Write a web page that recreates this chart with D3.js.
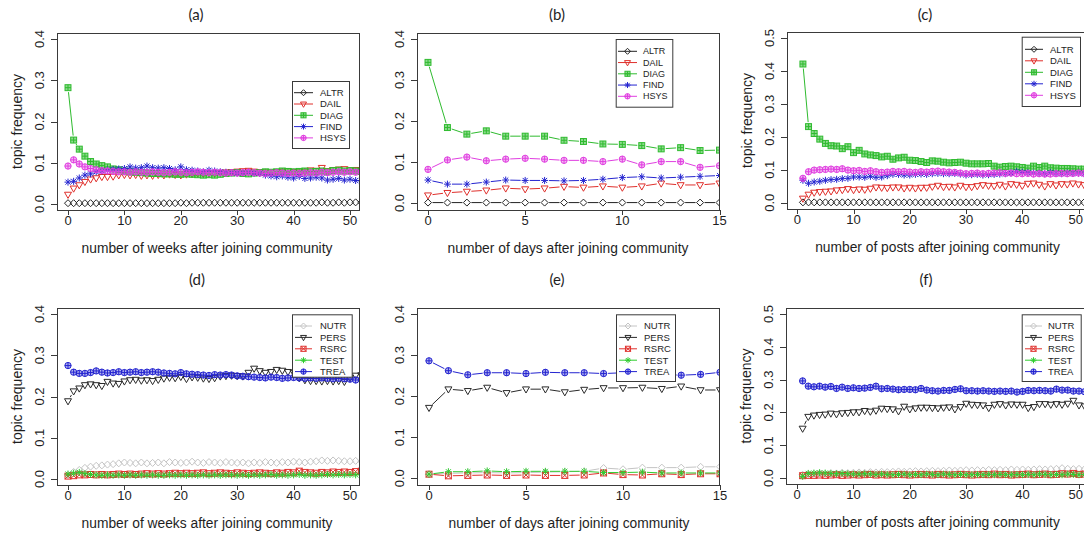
<!DOCTYPE html>
<html>
<head>
<meta charset="utf-8">
<script src="https://cdn.jsdelivr.net/npm/d3@7"></script>
<style>
  html, body { margin: 0; padding: 0; background: #fff; }
  svg { display: block; }
</style>
</head>
<body>
<svg id="chart" width="1084" height="535"></svg>
<script>
// ---------------------------------------------------------------
// Topic frequency over time after joining the community
// ---------------------------------------------------------------

// x positions (time indices)
const weeks = d3.range(0, 53);      // weeks 0..52
const days  = d3.range(0, 17);      // days 0..16
const posts = d3.range(1, 53);      // posts 1..52

const topicsTop    = ["ALTR", "DAIL", "DIAG", "FIND", "HSYS"];
const topicsBottom = ["NUTR", "PERS", "RSRC", "TEST", "TREA"];

// ---- (a) by week ----
const altrWeek = [0.002,0.002,0.002,0.002,0.002,0.002,0.002,0.002,0.002,0.002,
  0.002,0.002,0.002,0.002,0.002,0.002,0.002,0.002,0.002,0.002,
  0.003,0.002,0.003,0.003,0.003,0.003,0.003,0.003,0.003,0.003,
  0.003,0.003,0.003,0.003,0.003,0.003,0.003,0.003,0.003,0.003,
  0.003,0.003,0.003,0.003,0.003,0.004,0.003,0.003,0.004,0.003,
  0.004,0.004,0.004];
const dailWeek = [0.023,0.038,0.046,0.054,0.060,0.063,0.066,0.066,0.067,0.070,
  0.071,0.070,0.071,0.069,0.070,0.069,0.071,0.070,0.072,0.071,
  0.070,0.072,0.073,0.074,0.073,0.075,0.074,0.076,0.077,0.078,
  0.079,0.080,0.081,0.079,0.078,0.077,0.076,0.078,0.079,0.080,
  0.078,0.077,0.079,0.082,0.081,0.088,0.080,0.083,0.084,0.085,
  0.082,0.083,0.082];
const diagWeek = [0.282,0.155,0.133,0.116,0.103,0.097,0.093,0.090,0.085,0.083,
  0.080,0.078,0.077,0.076,0.075,0.074,0.074,0.073,0.073,0.072,
  0.072,0.073,0.072,0.071,0.070,0.071,0.070,0.072,0.074,0.075,
  0.076,0.074,0.073,0.075,0.076,0.078,0.077,0.078,0.080,0.079,
  0.078,0.079,0.080,0.078,0.079,0.080,0.078,0.081,0.082,0.080,
  0.081,0.080,0.079];
const findWeek = [0.053,0.055,0.063,0.070,0.073,0.078,0.080,0.082,0.084,0.085,
  0.086,0.090,0.087,0.088,0.092,0.088,0.087,0.088,0.086,0.083,
  0.090,0.083,0.082,0.080,0.078,0.082,0.080,0.078,0.077,0.076,
  0.075,0.076,0.077,0.075,0.074,0.070,0.068,0.066,0.068,0.065,
  0.063,0.067,0.062,0.063,0.065,0.063,0.058,0.060,0.062,0.058,
  0.060,0.057,0.056];
const hsysWeek = [0.092,0.107,0.097,0.090,0.086,0.083,0.081,0.080,0.079,0.078,
  0.078,0.077,0.078,0.077,0.077,0.078,0.077,0.076,0.077,0.078,
  0.077,0.076,0.077,0.078,0.077,0.076,0.077,0.076,0.075,0.076,
  0.075,0.076,0.077,0.076,0.075,0.074,0.075,0.076,0.075,0.074,
  0.075,0.074,0.075,0.076,0.075,0.077,0.076,0.077,0.078,0.077,
  0.078,0.077,0.078];

// ---- (b) by day ----
const altrDay = [0.001,0.001,0.001,0.001,0.001,0.001,0.001,0.001,0.001,0.001,0.001,0.001,0.001,0.001,0.001,0.001,0.001];
const dailDay = [0.019,0.025,0.028,0.031,0.036,0.034,0.036,0.040,0.038,0.041,0.038,0.041,0.048,0.044,0.044,0.048,0.049];
const diagDay = [0.343,0.184,0.168,0.176,0.163,0.163,0.163,0.153,0.150,0.144,0.143,0.140,0.132,0.135,0.128,0.129,0.131];
const findDay = [0.056,0.046,0.046,0.051,0.056,0.055,0.055,0.054,0.055,0.058,0.062,0.064,0.061,0.063,0.065,0.067,0.069];
const hsysDay = [0.082,0.105,0.112,0.103,0.107,0.109,0.107,0.104,0.104,0.101,0.107,0.093,0.101,0.101,0.087,0.091,0.095];

// ---- (c) by post ----
const altrPost = [0.001,0.001,0.001,0.001,0.001,0.001,0.001,0.001,0.001,0.001,
  0.001,0.001,0.001,0.001,0.001,0.001,0.001,0.001,0.001,0.001,
  0.001,0.001,0.001,0.001,0.001,0.001,0.001,0.001,0.001,0.001,
  0.001,0.001,0.001,0.001,0.001,0.001,0.001,0.001,0.001,0.001,
  0.001,0.001,0.001,0.001,0.001,0.001,0.001,0.001,0.001,0.001,
  0.001,0.001];
const dailPost = [0.013,0.025,0.031,0.033,0.034,0.035,0.038,0.039,0.042,0.039,
  0.041,0.040,0.043,0.047,0.046,0.045,0.047,0.047,0.044,0.046,
  0.044,0.046,0.046,0.049,0.052,0.048,0.049,0.047,0.052,0.048,
  0.048,0.051,0.054,0.052,0.051,0.055,0.050,0.057,0.055,0.052,
  0.058,0.059,0.055,0.050,0.057,0.053,0.057,0.056,0.059,0.056,
  0.054,0.055];
const diagPost = [0.421,0.231,0.210,0.193,0.180,0.173,0.172,0.164,0.170,0.152,
  0.159,0.148,0.145,0.143,0.139,0.141,0.132,0.136,0.138,0.129,
  0.128,0.125,0.122,0.127,0.126,0.123,0.121,0.122,0.123,0.120,
  0.118,0.118,0.118,0.119,0.111,0.108,0.110,0.111,0.109,0.107,
  0.105,0.111,0.107,0.111,0.106,0.105,0.104,0.104,0.103,0.102,
  0.102,0.100];
const findPost = [0.068,0.059,0.063,0.065,0.068,0.070,0.071,0.073,0.074,0.078,
  0.078,0.077,0.080,0.077,0.078,0.082,0.086,0.086,0.084,0.084,
  0.086,0.087,0.086,0.088,0.089,0.088,0.088,0.089,0.087,0.084,
  0.085,0.086,0.084,0.085,0.086,0.087,0.088,0.090,0.094,0.092,
  0.091,0.090,0.089,0.088,0.091,0.089,0.088,0.090,0.089,0.090,
  0.088,0.089];
const hsysPost = [0.074,0.094,0.099,0.100,0.101,0.102,0.101,0.103,0.099,0.097,
  0.098,0.095,0.097,0.094,0.092,0.093,0.095,0.094,0.095,0.093,
  0.092,0.094,0.093,0.095,0.096,0.094,0.093,0.092,0.090,0.088,
  0.089,0.090,0.088,0.089,0.090,0.091,0.089,0.090,0.088,0.088,
  0.089,0.087,0.088,0.087,0.087,0.088,0.089,0.088,0.089,0.090,
  0.089,0.090];

// ---- (d) by week ----
const nutrWeek = [0.010,0.017,0.022,0.027,0.030,0.032,0.033,0.035,0.036,0.038,
  0.040,0.039,0.038,0.040,0.038,0.039,0.040,0.038,0.041,0.040,
  0.039,0.040,0.042,0.040,0.039,0.041,0.040,0.039,0.041,0.040,
  0.039,0.040,0.038,0.040,0.039,0.041,0.040,0.039,0.041,0.040,
  0.042,0.041,0.040,0.042,0.043,0.045,0.044,0.045,0.044,0.043,
  0.043,0.044,0.043];
const persWeek = [0.189,0.213,0.220,0.228,0.230,0.228,0.226,0.236,0.232,0.231,
  0.237,0.240,0.241,0.239,0.240,0.238,0.241,0.244,0.246,0.245,
  0.248,0.243,0.247,0.246,0.244,0.243,0.245,0.249,0.250,0.251,
  0.250,0.249,0.258,0.268,0.262,0.258,0.260,0.265,0.263,0.260,
  0.258,0.245,0.240,0.238,0.238,0.237,0.238,0.237,0.238,0.236,
  0.245,0.251,0.252];
const rsrcWeek = [0.007,0.008,0.010,0.010,0.011,0.010,0.011,0.010,0.011,0.012,
  0.011,0.012,0.011,0.012,0.013,0.012,0.013,0.012,0.013,0.014,
  0.013,0.014,0.013,0.014,0.015,0.013,0.014,0.015,0.014,0.013,
  0.015,0.014,0.013,0.014,0.015,0.014,0.013,0.015,0.014,0.016,
  0.015,0.019,0.016,0.015,0.014,0.016,0.015,0.017,0.016,0.017,
  0.016,0.018,0.019];
const testWeek = [0.012,0.014,0.016,0.013,0.011,0.010,0.009,0.010,0.009,0.010,
  0.009,0.010,0.009,0.010,0.009,0.010,0.009,0.009,0.010,0.009,
  0.010,0.009,0.010,0.009,0.010,0.009,0.010,0.009,0.010,0.010,
  0.009,0.010,0.009,0.010,0.009,0.010,0.011,0.009,0.010,0.009,
  0.010,0.011,0.009,0.010,0.009,0.010,0.011,0.010,0.011,0.010,
  0.011,0.010,0.011];
const treaWeek = [0.275,0.259,0.256,0.256,0.258,0.262,0.259,0.257,0.258,0.260,
  0.258,0.259,0.260,0.258,0.259,0.260,0.259,0.257,0.256,0.255,
  0.258,0.255,0.254,0.253,0.252,0.251,0.253,0.252,0.253,0.252,
  0.250,0.249,0.248,0.247,0.246,0.245,0.247,0.246,0.244,0.245,
  0.246,0.245,0.244,0.245,0.244,0.245,0.244,0.243,0.244,0.243,
  0.242,0.240,0.241];

// ---- (e) by day ----
const nutrDay = [0.010,0.012,0.013,0.014,0.013,0.014,0.015,0.016,0.017,0.025,0.022,0.026,0.026,0.026,0.028,0.028,0.027];
const persDay = [0.172,0.217,0.213,0.221,0.208,0.217,0.217,0.210,0.216,0.220,0.220,0.221,0.218,0.224,0.215,0.215,0.215];
const rsrcDay = [0.010,0.006,0.007,0.008,0.007,0.008,0.007,0.007,0.008,0.013,0.009,0.008,0.011,0.009,0.011,0.011,0.011];
const testDay = [0.010,0.016,0.016,0.018,0.016,0.017,0.017,0.017,0.017,0.014,0.014,0.015,0.013,0.013,0.013,0.013,0.013];
const treaDay = [0.286,0.262,0.252,0.257,0.257,0.255,0.258,0.257,0.257,0.255,0.257,0.255,0.253,0.251,0.253,0.258,0.260];

// ---- (f) by post ----
const nutrPost = [0.010,0.012,0.013,0.014,0.013,0.015,0.014,0.016,0.015,0.016,
  0.017,0.016,0.018,0.017,0.019,0.018,0.019,0.020,0.019,0.020,
  0.021,0.020,0.021,0.022,0.021,0.022,0.023,0.022,0.023,0.024,
  0.023,0.024,0.023,0.025,0.024,0.025,0.024,0.026,0.025,0.026,
  0.025,0.026,0.027,0.026,0.027,0.028,0.030,0.028,0.027,0.028,
  0.027,0.028];
const persPost = [0.151,0.187,0.191,0.193,0.194,0.197,0.195,0.198,0.199,0.201,
  0.201,0.205,0.203,0.206,0.212,0.211,0.210,0.204,0.218,0.210,
  0.213,0.215,0.215,0.214,0.213,0.215,0.216,0.210,0.217,0.227,
  0.224,0.223,0.222,0.214,0.224,0.226,0.222,0.225,0.224,0.224,
  0.214,0.217,0.226,0.226,0.224,0.226,0.224,0.227,0.236,0.222,
  0.219,0.220];
const rsrcPost = [0.007,0.008,0.008,0.009,0.008,0.009,0.010,0.008,0.009,0.010,
  0.009,0.010,0.011,0.009,0.010,0.009,0.010,0.011,0.010,0.009,
  0.010,0.011,0.010,0.009,0.011,0.010,0.009,0.010,0.011,0.010,
  0.009,0.010,0.011,0.010,0.012,0.010,0.011,0.009,0.010,0.011,
  0.012,0.010,0.011,0.012,0.010,0.011,0.013,0.012,0.014,0.011,
  0.012,0.011];
const testPost = [0.005,0.014,0.015,0.016,0.015,0.014,0.013,0.014,0.013,0.012,
  0.012,0.013,0.012,0.011,0.012,0.011,0.010,0.011,0.012,0.010,
  0.011,0.010,0.012,0.011,0.010,0.012,0.011,0.010,0.011,0.010,
  0.010,0.011,0.010,0.011,0.010,0.011,0.010,0.010,0.011,0.010,
  0.011,0.010,0.012,0.011,0.010,0.011,0.010,0.012,0.011,0.010,
  0.011,0.010];
const treaPost = [0.296,0.280,0.278,0.280,0.277,0.279,0.273,0.277,0.273,0.275,
  0.273,0.274,0.276,0.280,0.272,0.273,0.271,0.269,0.270,0.270,
  0.269,0.273,0.268,0.266,0.265,0.267,0.267,0.270,0.272,0.266,
  0.266,0.265,0.266,0.265,0.264,0.265,0.264,0.265,0.262,0.264,
  0.267,0.266,0.267,0.266,0.265,0.271,0.268,0.268,0.265,0.265,
  0.263,0.264];

const yTicks4 = [0, 0.1, 0.2, 0.3, 0.4];
const yTicks5 = [0, 0.1, 0.2, 0.3, 0.4, 0.5];
const xTicks50 = [0, 10, 20, 30, 40, 50];
const xTicks15 = [0, 5, 10, 15];

// ---------------------------------------------------------------
// Styling
// ---------------------------------------------------------------
const topicStyle = {
  ALTR: { color: "#222222", shape: "diamond" },
  DAIL: { color: "#e0302c", shape: "triDown" },
  DIAG: { color: "#2fbb2f", shape: "squarePlus" },
  FIND: { color: "#2424d0", shape: "asterisk" },
  HSYS: { color: "#e03ee0", shape: "circlePlus" },
  NUTR: { color: "#c4c4c4", shape: "diamond" },
  PERS: { color: "#2a2a2a", shape: "triDown" },
  RSRC: { color: "#e0302c", shape: "squareX" },
  TEST: { color: "#2fcc2f", shape: "asterisk" },
  TREA: { color: "#2424d0", shape: "circlePlus" }
};

const FONT = "'Liberation Sans', Arial, Helvetica, sans-serif";
const TITLE_FONT = "Lato, 'Open Sans', sans-serif";
const INK = "#1e1e1e";
const FRAME = "#3a3a3a";
const CANVAS_W = 1084;

const panels = [
  { title: "(a)", titleX: 196, titleY: 20,
    box: { l: 57, t: 33, r: 360, b: 210 },
    xDom: [0, 50], xRng: [68, 350], yDom: [0, 0.4], yRng: [204, 39],
    xTicks: xTicks50, yTicks: yTicks4,
    xLabel: "number of weeks after joining community", xLabelX: 207, yLabel: true,
    x: weeks, names: topicsTop,
    values: [altrWeek, dailWeek, diagWeek, findWeek, hsysWeek],
    legend: { x: 292, y: 81, w: 57, h: 67, row0: 92.7, step: 11.3, l0: 294, l1: 313, tx: 320, fs: 9.5 } },
  { title: "(b)", titleX: 557, titleY: 20,
    box: { l: 417, t: 33, r: 720, b: 210 },
    xDom: [0, 15], xRng: [428, 719.5], yDom: [0, 0.4], yRng: [203, 39],
    xTicks: xTicks15, yTicks: yTicks4,
    xLabel: "number of days after joining community", xLabelX: 568, yLabel: false,
    x: days, names: topicsTop,
    values: [altrDay, dailDay, diagDay, findDay, hsysDay],
    legend: { x: 615.7, y: 39, w: 56.6, h: 67.7, row0: 51.3, step: 11.25, l0: 618, l1: 637, tx: 643, fs: 9 } },
  { title: "(c)", titleX: 925, titleY: 20,
    box: { l: 787, t: 32, r: 1100, b: 209 },
    xDom: [0, 50], xRng: [797.3, 1078.5], yDom: [0, 0.5], yRng: [202.7, 38],
    xTicks: xTicks50, yTicks: yTicks5,
    xLabel: "number of posts after joining community", xLabelX: 937.5, yLabel: true,
    x: posts, names: topicsTop,
    values: [altrPost, dailPost, diagPost, findPost, hsysPost],
    legend: { x: 1021.7, y: 36.7, w: 58.3, h: 69.3, row0: 49.3, step: 11.5, l0: 1025, l1: 1043, tx: 1050, fs: 9.5 } },
  { title: "(d)", titleX: 197, titleY: 285,
    box: { l: 57, t: 308, r: 360, b: 485 },
    xDom: [0, 50], xRng: [68, 350], yDom: [0, 0.4], yRng: [479, 314],
    xTicks: xTicks50, yTicks: yTicks4,
    xLabel: "number of weeks after joining community", xLabelX: 207, yLabel: true,
    x: weeks, names: topicsBottom,
    values: [nutrWeek, persWeek, rsrcWeek, testWeek, treaWeek],
    legend: { x: 292, y: 314.3, w: 59.7, h: 62.4, row0: 326, step: 11.4, l0: 295, l1: 312, tx: 320, fs: 9.5 } },
  { title: "(e)", titleX: 557, titleY: 285,
    box: { l: 417, t: 308, r: 720, b: 485 },
    xDom: [0, 15], xRng: [429, 720], yDom: [0, 0.4], yRng: [478.3, 314],
    xTicks: xTicks15, yTicks: yTicks4,
    xLabel: "number of days after joining community", xLabelX: 569, yLabel: false,
    x: days, names: topicsBottom,
    values: [nutrDay, persDay, rsrcDay, testDay, treaDay],
    legend: { x: 616, y: 314.3, w: 59, h: 66.7, row0: 326, step: 11.4, l0: 619, l1: 637, tx: 644, fs: 9.5 } },
  { title: "(f)", titleX: 926, titleY: 285,
    box: { l: 786, t: 308, r: 1100, b: 484 },
    xDom: [0, 50], xRng: [797, 1079], yDom: [0, 0.5], yRng: [478, 314],
    xTicks: xTicks50, yTicks: yTicks5,
    xLabel: "number of posts after joining community", xLabelX: 937.5, yLabel: true,
    x: posts, names: topicsBottom,
    values: [nutrPost, persPost, rsrcPost, testPost, treaPost],
    legend: { x: 1021.7, y: 314.3, w: 59, h: 66.7, row0: 326, step: 11.4, l0: 1025, l1: 1042, tx: 1048, fs: 9.5 } }
];

// ---------------------------------------------------------------
// Plot symbols (R-style pch shapes)
// ---------------------------------------------------------------
function drawSymbol(g, shape, color, r) {
  const s = { stroke: color, "stroke-width": 1, fill: "none" };
  const apply = (el) => { Object.entries(s).forEach(([k, v]) => el.attr(k, v)); return el; };
  switch (shape) {
    case "diamond":
      apply(g.append("path").attr("d", `M0,${-r}L${r},0L0,${r}L${-r},0Z`));
      break;
    case "triDown":
      apply(g.append("path").attr("d", `M${-r},${-r * 0.65}L${r},${-r * 0.65}L0,${r * 1.1}Z`));
      break;
    case "squarePlus": {
      const h = r * 0.85;
      apply(g.append("rect").attr("x", -h).attr("y", -h).attr("width", 2 * h).attr("height", 2 * h))
        .attr("fill", color).attr("fill-opacity", 0.55);
      apply(g.append("path").attr("d", `M${-h},0H${h}M0,${-h}V${h}`));
      break;
    }
    case "squareX": {
      const h = r * 0.85;
      apply(g.append("rect").attr("x", -h).attr("y", -h).attr("width", 2 * h).attr("height", 2 * h));
      apply(g.append("path").attr("d", `M${-h},${-h}L${h},${h}M${-h},${h}L${h},${-h}`));
      break;
    }
    case "asterisk": {
      const d = r * 0.72;
      apply(g.append("path").attr("d", `M${-r},0H${r}M0,${-r}V${r}M${-d},${-d}L${d},${d}M${-d},${d}L${d},${-d}`));
      break;
    }
    case "circlePlus": {
      const c = r * 0.9;
      apply(g.append("circle").attr("r", c)).attr("fill", color).attr("fill-opacity", 0.35);
      apply(g.append("path").attr("d", `M${-c},0H${c}M0,${-c}V${c}`));
      break;
    }
  }
}

// ---------------------------------------------------------------
// Drawing
// ---------------------------------------------------------------
const svg = d3.select("#chart");
svg.append("rect").attr("width", CANVAS_W).attr("height", 535).attr("fill", "#fff");

const R = 3.5;      // symbol radius
const GAP = 4.5;    // line gap around each symbol (type = "b")

panels.forEach((p, pi) => {
  const g = svg.append("g");
  const x = d3.scaleLinear().domain(p.xDom).range(p.xRng);
  const y = d3.scaleLinear().domain(p.yDom).range(p.yRng);
  const { l, t, r, b } = p.box;

  const clipId = "plotclip" + pi;
  svg.append("defs").append("clipPath").attr("id", clipId)
    .append("rect").attr("x", l).attr("y", t).attr("width", r - l).attr("height", b - t);

  // series
  const plot = g.append("g").attr("clip-path", `url(#${clipId})`);
  p.names.forEach((name, si) => {
    const st = topicStyle[name];
    const pts = p.x.map((xv, i) => [x(xv), y(p.values[si][i])]);
    let d = "";
    for (let i = 0; i < pts.length - 1; i++) {
      const [x1, y1] = pts[i], [x2, y2] = pts[i + 1];
      const len = Math.hypot(x2 - x1, y2 - y1);
      if (len <= 2 * GAP) continue;
      const ux = (x2 - x1) / len, uy = (y2 - y1) / len;
      d += `M${x1 + ux * GAP},${y1 + uy * GAP}L${x2 - ux * GAP},${y2 - uy * GAP}`;
    }
    plot.append("path").attr("d", d).attr("fill", "none")
      .attr("stroke", st.color).attr("stroke-width", 1);
    pts.forEach(([px, py]) => {
      drawSymbol(plot.append("g").attr("transform", `translate(${px},${py})`), st.shape, st.color, R);
    });
  });

  // frame
  g.append("rect").attr("x", l + 0.5).attr("y", t + 0.5)
    .attr("width", r - l - 1).attr("height", b - t)
    .attr("fill", "none").attr("stroke", FRAME).attr("stroke-width", 1);

  // x axis
  const xa = g.append("g");
  p.xTicks.forEach(v => {
    const px = Math.round(x(v)) + 0.5;
    xa.append("line").attr("x1", px).attr("x2", px).attr("y1", b).attr("y2", b + 5)
      .attr("stroke", FRAME);
    // keep the last label inside the canvas
    const nearEdge = x(v) + 9 > CANVAS_W;
    xa.append("text").attr("x", nearEdge ? CANVAS_W - 1 : x(v)).attr("y", b + 15)
      .attr("text-anchor", nearEdge ? "end" : "middle")
      .attr("font-family", FONT).attr("font-size", 13)
      .attr("fill", INK).text(d3.format("d")(v));
  });

  // y axis
  const ya = g.append("g");
  p.yTicks.forEach(v => {
    const py = Math.round(y(v)) + 0.5;
    ya.append("line").attr("x1", l - 6).attr("x2", l).attr("y1", py).attr("y2", py)
      .attr("stroke", FRAME);
    ya.append("text")
      .attr("transform", `translate(${l - 18},${y(v)}) rotate(-90)`)
      .attr("dy", "0.35em")
      .attr("text-anchor", "middle").attr("font-family", FONT).attr("font-size", 13)
      .attr("fill", INK).text(d3.format(".1f")(v));
  });

  // axis titles
  g.append("text").attr("x", p.xLabelX).attr("y", b + 43)
    .attr("text-anchor", "middle").attr("font-family", FONT).attr("font-size", 13.8)
    .attr("fill", INK).text(p.xLabel);
  if (p.yLabel) {
    g.append("text")
      .attr("transform", `translate(${l - 40},${(t + b) / 2}) rotate(-90)`)
      .attr("dy", "0.35em")
      .attr("text-anchor", "middle").attr("font-family", FONT).attr("font-size", 14)
      .attr("fill", INK).text("topic frequency");
  }

  // panel title
  g.append("text").attr("x", p.titleX).attr("y", p.titleY)
    .attr("text-anchor", "middle").attr("font-family", TITLE_FONT).attr("font-size", 15)
    .attr("fill", INK).text(p.title);

  // legend
  const L = p.legend;
  const lg = g.append("g");
  lg.append("rect").attr("x", L.x + 0.5).attr("y", L.y + 0.5).attr("width", L.w).attr("height", L.h)
    .attr("fill", "#fff").attr("stroke", FRAME).attr("stroke-width", 1);
  p.names.forEach((name, i) => {
    const st = topicStyle[name];
    const ry = L.row0 + i * L.step;
    lg.append("line").attr("x1", L.l0).attr("x2", L.l1).attr("y1", ry).attr("y2", ry)
      .attr("stroke", st.color).attr("stroke-width", 1);
    drawSymbol(lg.append("g").attr("transform", `translate(${(L.l0 + L.l1) / 2},${ry})`), st.shape, st.color, 3);
    lg.append("text").attr("x", L.tx).attr("y", ry).attr("dy", "0.35em")
      .attr("font-family", FONT).attr("font-size", L.fs).attr("fill", INK).text(name);
  });
});
</script>
</body>
</html>
